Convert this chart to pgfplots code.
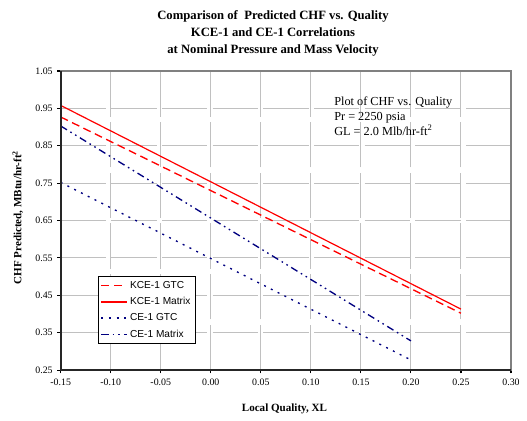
\documentclass[border=0pt]{standalone}
\usepackage{fontspec}
\setmainfont{Liberation Serif}
\newfontfamily\arial{Liberation Sans}
\usepackage{pgfplots}
\pgfplotsset{compat=1.18}
\definecolor{navy}{RGB}{0,0,128}
\definecolor{gridgray}{RGB}{192,192,192}
\tikzset{
  kgtc/.style={color=red, line width=1pt, dash pattern=on 6pt off 3.5pt},
  kmat/.style={color=red, line width=0.9pt},
  cgtc/.style={color=navy, line width=1pt, dash pattern=on 1.5pt off 4.2pt},
  cmat/.style={color=navy, line width=1pt, dash pattern=on 5.5pt off 3pt on 1.2pt off 3pt on 1.2pt off 3pt},
}
\begin{document}
\begin{tikzpicture}
\begin{axis}[
  scale only axis,
  width=337.7pt, height=224.25pt,
  xmin=-0.15, xmax=0.30, ymin=0.25, ymax=1.05,
  xtick={-0.15,-0.10,-0.05,0,0.05,0.10,0.15,0.20,0.25,0.30},
  ytick={0.25,0.35,0.45,0.55,0.65,0.75,0.85,0.95,1.05},
  xtick pos=bottom, ytick pos=left,
  tick align=outside, major tick length=2.5pt,
  tick style={black, line width=0.8pt},
  /pgf/number format/assume math mode=true,
  /pgf/number format/.cd, fixed, fixed zerofill, precision=2, /pgfplots/.cd,
  ticklabel style={font=\fontsize{7.4}{8}\selectfont},
  xticklabel style={yshift=-1pt},
  scaled ticks=false,
  grid=major,
  major grid style={draw=gridgray, line width=0.75pt, dash pattern=on 34pt off 4pt},
  axis line style={draw=gray, line width=1.3pt},
  clip=false,
  xlabel={Local Quality, XL},
  ylabel={CHF Predicted, MBtu/hr-ft\textsuperscript{2}},
  label style={font=\bfseries\fontsize{8.3}{10}\selectfont},
  xlabel style={at={(rel axis cs:0.497,-0.130)}, anchor=center},
  ylabel style={at={(rel axis cs:-0.095,0.51)}, anchor=center},
  legend cell align=left,
  legend style={at={(rel axis cs:0.083,0.315)}, anchor=north west,
    font=\arial\fontsize{7.6}{9}\selectfont, line width=0.75pt,
    inner sep=1.5pt, row sep=1.3pt},
  legend image code/.code={\draw[#1, line width=1.2pt] (0pt,0pt) -- (19pt,0pt);},
]
\addplot[kgtc] coordinates {(-0.15,0.927) (0.25,0.402)};
\addlegendentry{KCE-1 GTC}
\addplot[kmat] coordinates {(-0.15,0.958) (0.25,0.413)};
\addlegendentry{KCE-1 Matrix}
\addplot[cgtc] coordinates {(-0.15,0.752) (0.20,0.277)};
\addlegendentry{CE-1 GTC}
\addplot[cmat] coordinates {(-0.15,0.903) (0.20,0.328)};
\addlegendentry{CE-1 Matrix}
\node[anchor=center, align=center, font=\bfseries\fontsize{9.5}{12.75}\selectfont]
  at (rel axis cs:0.4715,1.127) {Comparison of\ \ Predicted CHF vs. Quality\\KCE-1 and CE-1 Correlations\\at Nominal Pressure and Mass Velocity};
\node[anchor=north west, align=left, inner sep=0pt, font=\fontsize{9.2}{11.1}\selectfont]
  at (rel axis cs:0.607,0.914) {Plot of CHF vs. Quality\\Pr = 2250 psia\\GL = 2.0 Mlb/hr-ft\textsuperscript{2}};
\end{axis}
\draw[black!85, line width=1.3pt] (current axis.north west) -- (current axis.south west) -- (current axis.south east);
\pgfresetboundingbox
\path[use as bounding box] ([xshift=-45.5pt,yshift=-37.5pt]current axis.south west) rectangle ([xshift=12pt,yshift=53.25pt]current axis.north east);
\end{tikzpicture}
\end{document}
